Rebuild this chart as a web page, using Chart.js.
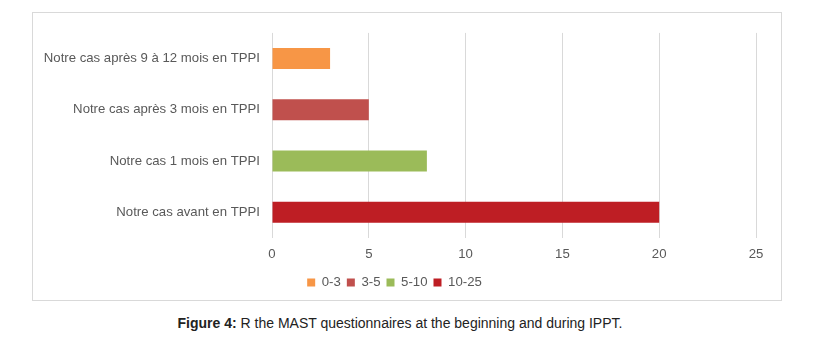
<!DOCTYPE html>
<html lang="fr">
<head>
  <meta charset="utf-8" />
  <title>MAST</title>
  <script src="https://cdn.jsdelivr.net/npm/chart.js"></script>
  <style>
    body {
      margin: 0;
      background: #fff;
      width: 836px;
      height: 347px;
      position: relative;
      font-family: 'Liberation Sans', Arial, sans-serif;
    }
    .box {
      position: absolute;
      left: 32px;
      top: 12px;
      width: 748px;
      height: 287px;
      border: 1px solid #d9d9d9;
    }
    .caption {
      position: absolute;
      left: 0;
      width: 800px;
      top: 315px;
      text-align: center;
      font-size: 14px;
      color: #222;
    }
  </style>
</head>
<body>
  <div class="box">
    <canvas id="chart" width="748" height="287"></canvas>
  </div>
  <div class="caption"><b>Figure 4:</b> R the MAST questionnaires at the beginning and during IPPT.</div>

  <script>
    const categories = [
      'Notre cas après 9 à 12 mois en TPPI',
      'Notre cas après 3 mois en TPPI',
      'Notre cas 1 mois en TPPI',
      'Notre cas avant en TPPI'
    ];
    const seriesNames = ['0-3', '3-5', '5-10', '10-25'];
    const seriesColors = ['#F79646', '#C0504D', '#9BBB59', '#BE1E24'];
    const scores = [3, 5, 8, 20];
    const xTicks = [0, 5, 10, 15, 20, 25];

    const font = { size: 13.2, family: "'Liberation Sans', Arial" };

    // one dataset per range, each filled only on its own row
    const datasets = seriesNames.map((name, i) => ({
      label: name,
      data: categories.map((c, j) => (j === i ? scores[i] : null)),
      backgroundColor: seriesColors[i],
      borderWidth: 0,
      barPercentage: 0.41,
      categoryPercentage: 1
    }));

    new Chart(document.getElementById('chart').getContext('2d'), {
      type: 'bar',
      data: { labels: categories, datasets },
      options: {
        indexAxis: 'y',
        responsive: false,
        animation: false,
        layout: { padding: { top: 18, right: 25, bottom: 1, left: 0 } },
        scales: {
          x: {
            min: 0,
            max: 25,
            afterBuildTicks: s => { s.ticks = xTicks.map(v => ({ value: v })); },
            grid: { color: '#d9d9d9', drawTicks: false },
            border: { display: false },
            ticks: { color: '#595959', font, padding: 8 }
          },
          y: {
            stacked: true,
            grid: { display: false, drawTicks: false },
            border: { display: false },
            afterFit: s => { s.width = 239; },
            ticks: { color: '#595959', font, padding: 12 }
          }
        },
        plugins: {
          legend: {
            position: 'bottom',
            labels: {
              color: '#595959',
              font,
              boxWidth: 8,
              boxHeight: 8,
              padding: 6
            }
          },
          tooltip: { enabled: false }
        }
      }
    });
  </script>
</body>
</html>
